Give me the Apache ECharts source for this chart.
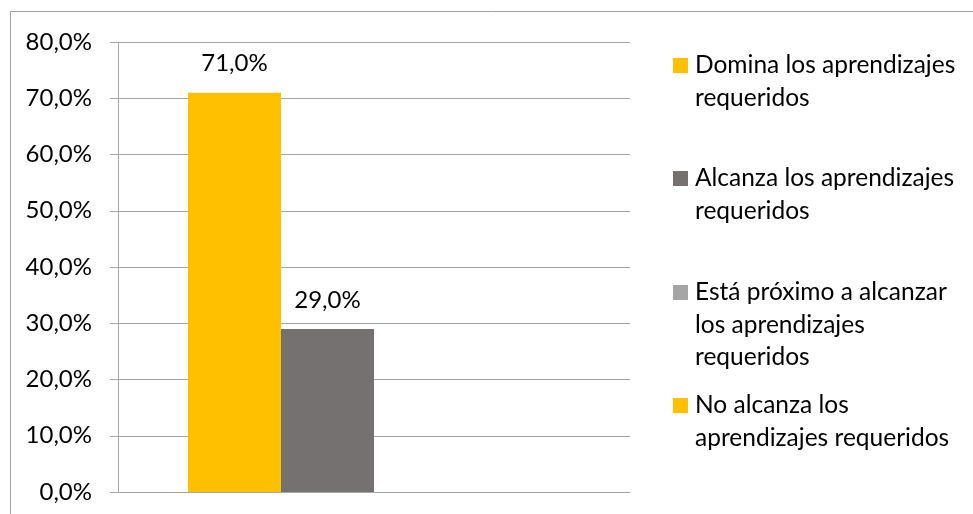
<!DOCTYPE html>
<html>
<head>
<meta charset="utf-8">
<script src="https://cdn.jsdelivr.net/npm/echarts@6/dist/echarts.min.js"></script>
<style>html,body{margin:0;padding:0;background:#fff}#c{width:973px;height:514px}</style>
</head>
<body>
<div id="c"></div>
<script>
const categories = ['Nivel'];
const seriesNames = ['Domina los aprendizajes requeridos', 'Alcanza los aprendizajes requeridos', 'Está próximo a alcanzar los aprendizajes requeridos', 'No alcanza los aprendizajes requeridos'];
const legendLabels = ['Domina los aprendizajes\nrequeridos', 'Alcanza los aprendizajes\nrequeridos', 'Está próximo a alcanzar\nlos aprendizajes\nrequeridos', 'No alcanza los\naprendizajes requeridos'];
const dominaValues = [71.0];
const alcanzaValues = [29.0];
const proximoValues = [0];
const noAlcanzaValues = [0];
const seriesValues = [dominaValues, alcanzaValues, proximoValues, noAlcanzaValues];
const colors = ['#FFC000', '#767171', '#A5A5A5', '#FFC000'];
const yMin = 0, yMax = 80, yInterval = 10;

const FONT = 'Lato';
const FS = 24;
const LFS = 24.5;
const LH = 32.5;
const chart = echarts.init(document.getElementById('c'), null, {renderer: 'canvas'});
const fmt = v => v.toFixed(1).replace('.', ',') + '%';

const iconCenters = [65.5, 178.5, 292.5, 405.5];
const legends = legendLabels.map((lab, i) => {
  const n = lab.split('\n').length;
  const padded = '\n'.repeat(n - 1) + lab;
  return {
    data: [seriesNames[i]],
    left: 673,
    top: iconCenters[i] - (2 * n - 1) * LH / 2,
    padding: 0,
    orient: 'vertical',
    itemWidth: 15,
    itemHeight: 15,
    icon: 'rect',
    selectedMode: false,
    formatter: () => padded,
    textStyle: {fontFamily: FONT, fontSize: LFS, color: '#000', lineHeight: LH, padding: [0, 0, 0, 2]}
  };
});

chart.setOption({
  animation: false,
  color: colors,
  graphic: [{type: 'rect', shape: {x: 10.5, y: 11.5, width: 990, height: 540}, style: {fill: 'none', stroke: '#A0A0A0', lineWidth: 1}, silent: true}],
  grid: {left: 118, right: 343, top: 42, bottom: 22},
  legend: legends,
  xAxis: {
    type: 'category', data: categories,
    axisLine: {show: true, lineStyle: {color: '#A6A6A6'}},
    axisTick: {show: false}, axisLabel: {show: false}
  },
  yAxis: {
    type: 'value', min: yMin, max: yMax, interval: yInterval,
    axisLine: {show: true, lineStyle: {color: '#A6A6A6'}},
    axisTick: {show: true, inside: false, length: 8, lineStyle: {color: '#A6A6A6'}},
    splitLine: {lineStyle: {color: '#A6A6A6'}},
    axisLabel: {margin: 26, fontFamily: FONT, fontSize: FS, color: '#000', formatter: v => fmt(v)}
  },
  series: seriesValues.map((vals, i) => ({
    name: seriesNames[i], type: 'bar', data: vals,
    barWidth: 93, barGap: '0%',
    itemStyle: {color: colors[i]},
    label: {show: true, position: 'top', distance: 17, fontFamily: FONT, fontSize: FS, color: '#000',
      formatter: p => p.value ? fmt(p.value) : ''}
  }))
});
</script>
</body>
</html>
